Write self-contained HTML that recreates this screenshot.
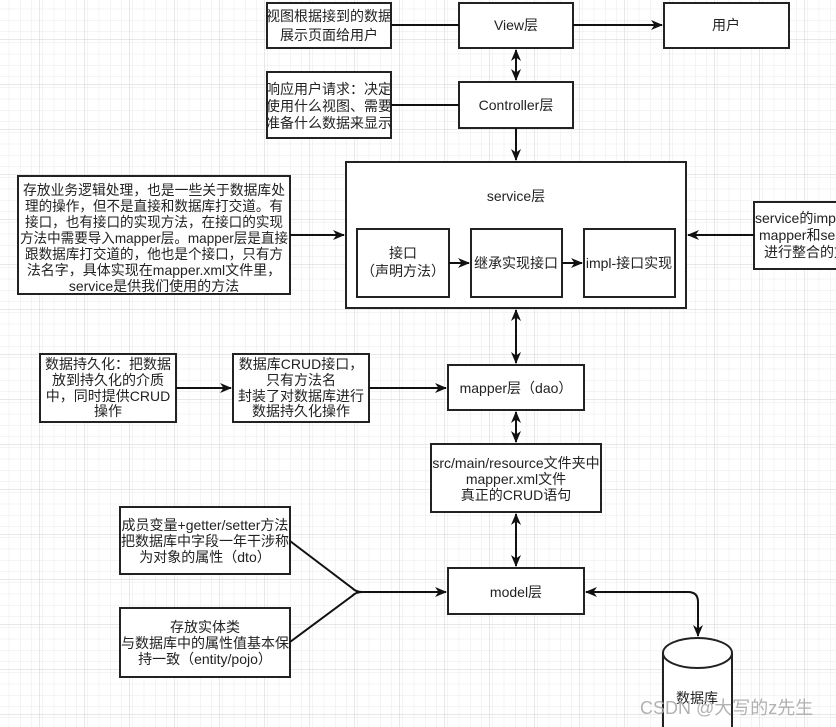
<!DOCTYPE html>
<html><head><meta charset="utf-8"><style>
html,body{margin:0;padding:0;background:#fff;}
svg{display:block;}
text{font-family:"Liberation Sans","Noto Sans CJK SC",sans-serif;font-size:14px;fill:#222;}
</style></head><body>
<svg width="836" height="727" viewBox="0 0 836 727" xmlns="http://www.w3.org/2000/svg">
<defs>
<pattern id="minor" width="11.25" height="11.25" patternUnits="userSpaceOnUse" x="-2" y="-2">
<path d="M11.25 0V11.25M0 11.25H11.25" stroke="#e8e8e8" stroke-width="1" fill="none"/>
</pattern>
<pattern id="major" width="45" height="45" patternUnits="userSpaceOnUse" x="-5" y="-5">
<path d="M45 0V45M0 45H45" stroke="#d2d2d2" stroke-width="1" fill="none"/>
</pattern>
<marker id="ah" markerWidth="12" markerHeight="12" refX="11" refY="6" orient="auto-start-reverse" markerUnits="userSpaceOnUse">
<path d="M0,1 L12,6 L0,11 L3.5,6 Z" fill="#111"/>
</marker>
</defs>
<rect width="836" height="727" fill="url(#minor)"/>
<rect width="836" height="727" fill="url(#major)"/>

<g fill="#fff" stroke="#222" stroke-width="2">
<rect x="267" y="3" width="124" height="45"/>
<rect x="459" y="3" width="114" height="45"/>
<rect x="664" y="3" width="125" height="45"/>
<rect x="267" y="72" width="124" height="66"/>
<rect x="459" y="82" width="114" height="46"/>
<rect x="346" y="162" width="340" height="146"/>
<rect x="357" y="229" width="92" height="68"/>
<rect x="471" y="229" width="91" height="68"/>
<rect x="584" y="229" width="91" height="68"/>
<rect x="754" y="202" width="90" height="67"/>
<rect x="18" y="176" width="272" height="118"/>
<rect x="448" y="365" width="136" height="45"/>
<rect x="40" y="354" width="136" height="68"/>
<rect x="233" y="354" width="136" height="68"/>
<rect x="431" y="444" width="170" height="68"/>
<rect x="448" y="568" width="136" height="46"/>
<rect x="120" y="507" width="170" height="67"/>
<rect x="120" y="608" width="170" height="69"/>
<path d="M663 653 V740 H732 V653"/>
<ellipse cx="697.5" cy="653" rx="34.5" ry="15"/>
</g>

<g stroke="#111" stroke-width="2" fill="none">
<line x1="391" y1="25" x2="459" y2="25"/>
<line x1="391" y1="105" x2="459" y2="105"/>
<line x1="573" y1="25" x2="662" y2="25" marker-end="url(#ah)"/>
<line x1="516" y1="50" x2="516" y2="80" marker-start="url(#ah)" marker-end="url(#ah)"/>
<line x1="516" y1="128" x2="516" y2="160" marker-end="url(#ah)"/>
<line x1="290" y1="235" x2="344" y2="235" marker-end="url(#ah)"/>
<line x1="754" y1="235" x2="688" y2="235" marker-end="url(#ah)"/>
<line x1="449" y1="263" x2="469" y2="263" marker-end="url(#ah)"/>
<line x1="562" y1="263" x2="582" y2="263" marker-end="url(#ah)"/>
<line x1="516" y1="310" x2="516" y2="363" marker-start="url(#ah)" marker-end="url(#ah)"/>
<line x1="176" y1="388" x2="231" y2="388" marker-end="url(#ah)"/>
<line x1="369" y1="388" x2="446" y2="388" marker-end="url(#ah)"/>
<line x1="516" y1="412" x2="516" y2="442" marker-start="url(#ah)" marker-end="url(#ah)"/>
<line x1="516" y1="514" x2="516" y2="566" marker-start="url(#ah)" marker-end="url(#ah)"/>
<path d="M290 541 L352 588 Q356 592 362 592 H446" marker-end="url(#ah)"/>
<path d="M290 642 L352 596 Q356 592 362 592"/>
<path d="M586 592 H688 Q698 592 698 602 V636" marker-start="url(#ah)" marker-end="url(#ah)"/>
</g>

<g text-anchor="middle">
<text x="329" y="21">视图根据接到的数据</text>
<text x="329" y="40">展示页面给用户</text>
<text x="516" y="30">View层</text>
<text x="726" y="30">用户</text>
<text x="329" y="94">响应用户请求：决定</text>
<text x="329" y="111">使用什么视图、需要</text>
<text x="329" y="128">准备什么数据来显示</text>
<text x="516" y="110">Controller层</text>
<text x="516" y="201">service层</text>
<text x="403" y="258">接口</text>
<text x="403" y="276">（声明方法）</text>
<text x="516" y="268">继承实现接口</text>
<text x="629" y="268">impl-接口实现</text>
<text x="154" y="195" textLength="262" lengthAdjust="spacingAndGlyphs">存放业务逻辑处理，也是一些关于数据库处</text>
<text x="154" y="211" textLength="258" lengthAdjust="spacingAndGlyphs">理的操作，但不是直接和数据库打交道。有</text>
<text x="154" y="227" textLength="258" lengthAdjust="spacingAndGlyphs">接口，也有接口的实现方法，在接口的实现</text>
<text x="154" y="243" textLength="268" lengthAdjust="spacingAndGlyphs">方法中需要导入mapper层。mapper层是直接</text>
<text x="154" y="259" textLength="258" lengthAdjust="spacingAndGlyphs">跟数据库打交道的，他也是个接口，只有方</text>
<text x="154" y="275">法名字，具体实现在mapper.xml文件里，</text>
<text x="154" y="291">service是供我们使用的方法</text>
<text x="516" y="393">mapper层（dao）</text>
<text x="108" y="369">数据持久化：把数据</text>
<text x="108" y="385">放到持久化的介质</text>
<text x="108" y="401">中，同时提供CRUD</text>
<text x="108" y="416">操作</text>
<text x="301" y="369">数据库CRUD接口，</text>
<text x="301" y="385">只有方法名</text>
<text x="301" y="401">封装了对数据库进行</text>
<text x="301" y="416">数据持久化操作</text>
<text x="516" y="468">src/main/resource文件夹中</text>
<text x="516" y="484">mapper.xml文件</text>
<text x="516" y="500">真正的CRUD语句</text>
<text x="516" y="597">model层</text>
<text x="205" y="530">成员变量+getter/setter方法</text>
<text x="205" y="546">把数据库中字段一年干涉称</text>
<text x="205" y="562">为对象的属性（dto）</text>
<text x="205" y="632">存放实体类</text>
<text x="205" y="648">与数据库中的属性值基本保</text>
<text x="205" y="664">持一致（entity/pojo）</text>
<text x="697" y="703">数据库</text>
</g>
<g text-anchor="start">
<text x="755" y="223">service的impl</text>
<text x="759" y="240">mapper和ser</text>
<text x="764" y="257">进行整合的文</text>
</g>
<text x="640" y="714" style="font-size:18px;fill:#aaa;opacity:0.9">CSDN @大写的z先生</text>
</svg>
</body></html>
